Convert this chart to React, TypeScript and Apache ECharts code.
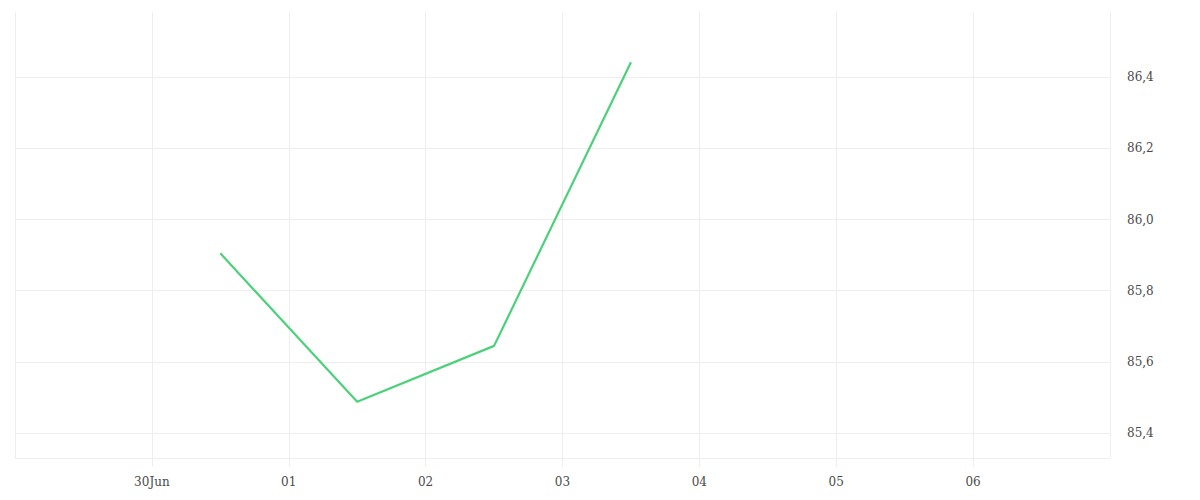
import React, { useEffect, useRef } from "react";
import * as echarts from "echarts";

const dates: string[] = ["2023-06-30T12:00:00Z", "2023-07-01T12:00:00Z", "2023-07-02T12:00:00Z", "2023-07-03T12:00:00Z"];
const values: number[] = [85.905, 85.488, 85.645, 86.442];
const yTicks: number[] = [85.4, 85.6, 85.8, 86.0, 86.2, 86.4];
const xMin = Date.UTC(2023, 5, 29);
const xMax = Date.UTC(2023, 6, 7);
const yMin = 85.33;
const yMax = 86.583;

export default function App() {
  const ref = useRef<HTMLDivElement>(null);
  useEffect(() => {
    if (!ref.current) return;
    const chart = echarts.init(ref.current, null, { renderer: "svg" });
    const font = "'DejaVu Serif', serif";
    chart.setOption({
      animation: false,
      backgroundColor: "#ffffff",
      grid: { left: 15, right: 90, top: 12, bottom: 42, containLabel: false },
      xAxis: {
        type: "value",
        min: xMin,
        max: xMax,
        interval: 86400000,
        axisLine: { show: true, lineStyle: { color: "#eeeeee", width: 1 } },
        axisTick: { show: true, length: 9, lineStyle: { color: "#eeeeee" } },
        splitLine: { show: true, lineStyle: { color: "#eeeeee", width: 1 } },
        axisLabel: {
          showMinLabel: false,
          showMaxLabel: false,
          margin: 18,
          color: "#4a4a4a",
          fontFamily: font,
          fontSize: 12,
          formatter: (v: number) => {
            const d = new Date(v);
            const day = d.getUTCDate();
            const s = String(day).padStart(2, "0");
            return day === 30 ? s + "Jun" : s;
          },
        },
      },
      yAxis: {
        type: "value",
        position: "right",
        min: yMin,
        max: yMax,
        axisLine: { show: false },
        axisTick: { show: false, customValues: yTicks },
        splitLine: { show: true, lineStyle: { color: "#eeeeee", width: 1 } },
        axisLabel: {
          customValues: yTicks,
          margin: 17,
          color: "#4a4a4a",
          fontFamily: font,
          fontSize: 12,
          formatter: (v: number) => v.toFixed(1).replace(".", ","),
        },
      },
      series: [
        {
          type: "line",
          data: dates.map((d, i) => [Date.parse(d), values[i]]),
          showSymbol: false,
          symbol: "none",
          lineStyle: { color: "#4cd17a", width: 2.2 },
        },
      ],
    });
    return () => chart.dispose();
  }, []);
  return <div ref={ref} style={{ position: "fixed", left: 0, top: 0, width: 1200, height: 500 }} />;
}
